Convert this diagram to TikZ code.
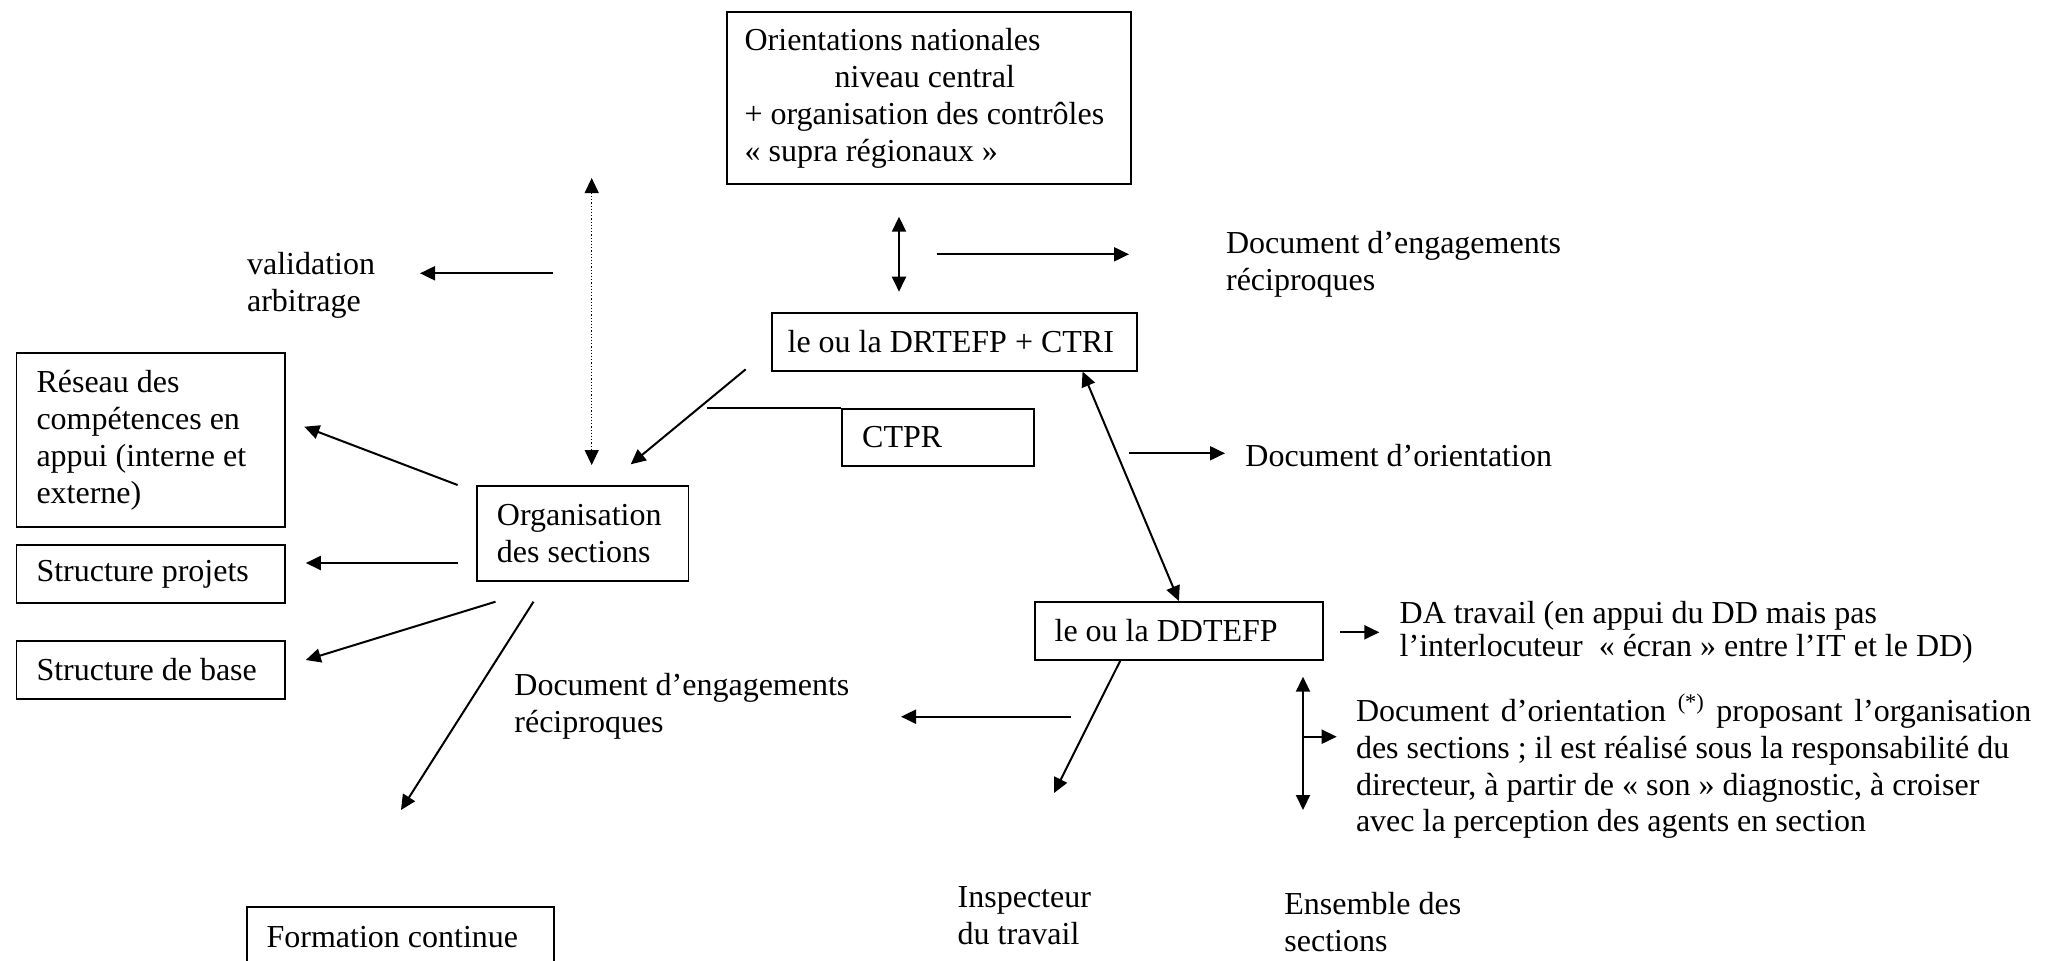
\documentclass[tikz,border=0pt]{standalone}
\usepackage{fontspec}
\setmainfont{Liberation Serif}
\usepackage{tikz}
\usetikzlibrary{arrows.meta}

\begin{document}
\begin{tikzpicture}[x=0.5pt,y=-0.5pt,
    >={Triangle[length=7.5pt,width=7pt]},
    every node/.style={font=\fontsize{16pt}{18.5pt}\selectfont},
    cadre/.style={draw,line width=0.9pt,anchor=north west,align=flush left,inner xsep=10pt,inner ysep=1pt},
    texte/.style={anchor=base west,align=left,inner sep=0pt},
    fleche/.style={->,line width=1pt}]
    \clip (0,0) rectangle (2056,960);
    \fill[white] (0,0) rectangle (2056,960);

    % boites
    \node[cadre,text width=184pt,inner xsep=9pt,minimum height=86.2pt] (nat) at (725.7,11) {Orientations nationales\\\hspace*{45pt}niveau central\\+ organisation des contrôles\\« supra régionaux »};
    \node[cadre,text width=166.7pt,inner xsep=8pt,minimum height=28.7pt] (drtefp) at (770.7,312.3) {le ou la DRTEFP + CTRI};
    \node[cadre,text width=76pt,minimum height=28.7pt] (ctpr) at (841.3,407.7) {CTPR};
    \node[cadre,text width=114.3pt,minimum height=87.2pt] (reseau) at (15.6,351.7) {Réseau des\\compétences en\\appui (interne et\\externe)};
    \node[cadre,text width=85.8pt,minimum height=47.5pt] (orga) at (476,485) {Organisation\\des sections};
    \node[cadre,text width=114.2pt,minimum height=28.9pt] (projets) at (15.6,544) {Structure projets};
    \node[cadre,text width=114.2pt,minimum height=29pt] (base) at (15.6,640) {Structure de base};
    \node[cadre,text width=124.3pt,minimum height=29pt] (ddtefp) at (1033.7,601) {le ou la DDTEFP};
    \node[cadre,text width=133.8pt,minimum height=30pt] (formation) at (245.7,905.7) {Formation continue};

    % textes libres (ancre sur la derniere ligne)
    \node[texte] (valid) at (246.7,311) {validation\\arbitrage};
    \node[texte] (engag1) at (1225.7,290.7) {Document d’engagements\\réciproques};
    \node[texte] (orient1) at (1245,466.7) {Document d’orientation};
    \node[texte] (engag2) at (514,732) {Document d’engagements\\réciproques};
    \node[texte,font=\fontsize{16pt}{16.5pt}\selectfont] (datrav) at (1399.3,656.7) {DA travail (en appui du DD mais pas\\l’interlocuteur\ \ « écran » entre l’IT et le DD)};
    \node[texte,font=\fontsize{16pt}{18.35pt}\selectfont] (orient2) at (1355.6,831.7) {\makebox[337.7pt][s]{Document d’orientation \textsuperscript{(*)} proposant l’organisation}\\des sections ; il est réalisé sous la responsabilité du\\directeur, à partir de « son » diagnostic, à croiser\\avec la perception des agents en section};
    \node[texte] (insp) at (957.3,944) {Inspecteur\\du travail};
    \node[texte] (ensemble) at (1284,951) {Ensemble des\\sections};

    % extremites libres
    \coordinate (nd1) at (899,216.7);
    \coordinate (nd2) at (899,291.7);
    \coordinate (eng1a) at (936.7,254.3);
    \coordinate (eng1b) at (1129,254.3);
    \coordinate (vala) at (553,273.3);
    \coordinate (valb) at (420,273.3);
    \coordinate (dota) at (591.7,178);
    \coordinate (dotb) at (591.7,465);
    \coordinate (dra) at (745.7,369.3);
    \coordinate (drb) at (630.7,464.3);
    \coordinate (ctprl) at (706.7,407.7);
    \coordinate (ora) at (1129,453.3);
    \coordinate (orb) at (1225,453.3);
    \coordinate (resa) at (457.6,485);
    \coordinate (resb) at (304.3,426.7);
    \coordinate (proa) at (457.6,563);
    \coordinate (prob) at (305.8,563);
    \coordinate (basa) at (495.5,601.7);
    \coordinate (basb) at (305.8,660);
    \coordinate (fora) at (533.5,601.7);
    \coordinate (forb) at (401,810);
    \coordinate (daa) at (1340,632.3);
    \coordinate (dab) at (1379.3,632.3);
    \coordinate (inspb) at (1054,793);
    \coordinate (eng2a) at (1071,716.7);
    \coordinate (eng2b) at (901,716.7);
    \coordinate (ensa) at (1303,676.7);
    \coordinate (ensb) at (1303,810);
    \coordinate (ensc) at (1303,736.7);
    \coordinate (ensd) at (1336.7,736.7);

    % fleches
    \draw[fleche,<->] (nd1) -- (nd2);
    \draw[fleche] (eng1a) -- (eng1b);
    \draw[fleche] (vala) -- (valb);
    \draw[<->,line width=0.6pt,densely dotted] (dota) -- (dotb);
    \draw[fleche] (dra) -- (drb);
    \draw[line width=0.9pt] (ctprl) -- (ctpr.north west);
    \draw[fleche,<->] (drtefp.-13.6) -- (ddtefp.north);
    \draw[fleche] (ora) -- (orb);
    \draw[fleche] (resa) -- (resb);
    \draw[fleche] (proa) -- (prob);
    \draw[fleche] (basa) -- (basb);
    \draw[fleche] (fora) -- (forb);
    \draw[fleche] (daa) -- (dab);
    \draw[fleche] (ddtefp.207) -- (inspb);
    \draw[fleche] (eng2a) -- (eng2b);
    \draw[fleche,<->] (ensa) -- (ensb);
    \draw[fleche] (ensc) -- (ensd);
\end{tikzpicture}
\end{document}
